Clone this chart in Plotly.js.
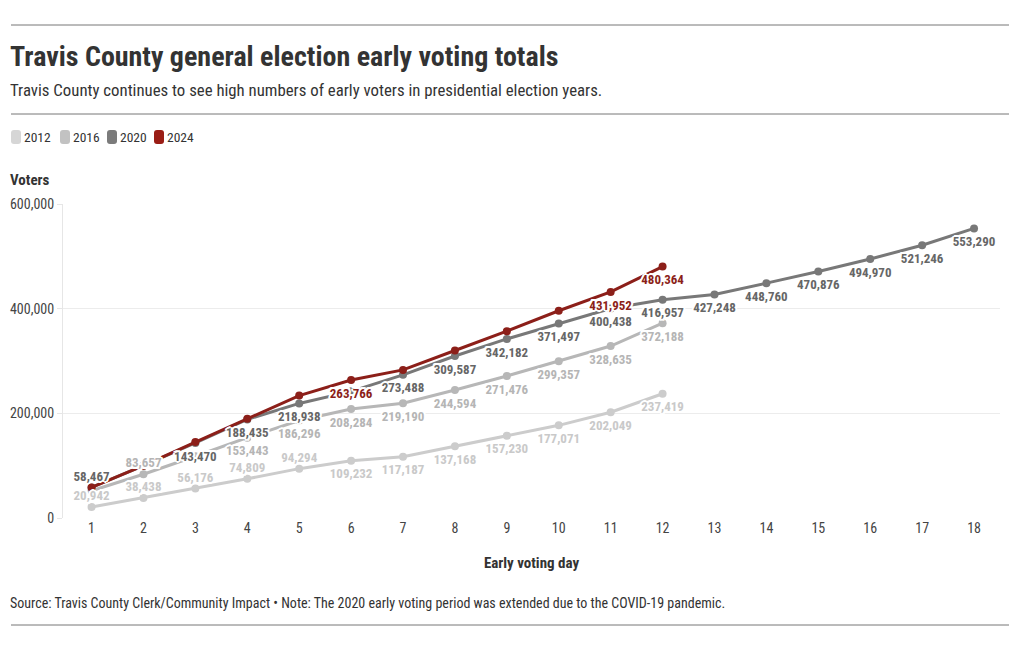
<!DOCTYPE html>
<html>
<head>
<meta charset="utf-8">
<script src="https://cdn.plot.ly/plotly-3.0.1.min.js"></script>
<style>
html,body{margin:0;padding:0;background:#fff;}
#chart{width:1020px;height:650px;}
</style>
</head>
<body>
<div id="chart"></div>
<script>
// ---- data ----
const days = [1,2,3,4,5,6,7,8,9,10,11,12,13,14,15,16,17,18];
const seriesNames = ["2012","2016","2020","2024"];
const votes2012 = [20942,38438,56176,74809,94294,109232,117187,137168,157230,177071,202049,237419];
const votes2016 = [52000,83657,118000,153443,186296,208284,219190,244594,271476,299357,328635,372188];
const votes2020 = [58467,100000,143470,188435,218938,242000,273488,309587,342182,371497,400438,416957,427248,448760,470876,494970,521246,553290];
const votes2024 = [58500,100000,145000,189500,234000,263766,283000,320000,357000,396000,431952,480364];
// which points carry a visible value label (1 = shown)
const shown2012 = [1,1,1,1,1,1,1,1,1,1,1,1];
const shown2016 = [0,1,0,1,1,1,1,1,1,1,1,1];
const shown2020 = [1,0,1,1,1,0,1,1,1,1,1,1,1,1,1,1,1,1];
const shown2024 = [0,0,0,0,0,1,0,0,0,0,1,1];
const yTicks = [0,200000,400000,600000];
const yTickText = ["0","200,000","400,000","600,000"];

// ---- styling ----
const FONT = "'Roboto Condensed', 'Liberation Sans Narrow', 'DejaVu Sans Condensed', Roboto, sans-serif";
const lineColors = ["#cccccc","#b7b7b7","#787878","#8c1f19"];
const labelColors = ["#c9c9c9","#b5b5b5","#666666","#8c1f19"];
const swatchColors = ["#d6d6d6","#c2c2c2","#7b7b7b","#9a1d15"];
const halo = "2px 0 0 #fff, -2px 0 0 #fff, 0 2px 0 #fff, 0 -2px 0 #fff, 1.5px 1.5px 0 #fff, -1.5px -1.5px 0 #fff, 1.5px -1.5px 0 #fff, -1.5px 1.5px 0 #fff";

const allVotes = [votes2012, votes2016, votes2020, votes2024];
const allShown = [shown2012, shown2016, shown2020, shown2024];
// label placement: above for early 2012 points and a few others, below otherwise
const abovePts = [[0,1,2,3,4],[1],[0],[]];

const fmt = v => v.toLocaleString("en-US");

const lineTraces = allVotes.map((vals, i) => ({
  x: days.slice(0, vals.length),
  y: vals,
  type: "scatter",
  mode: "lines+markers",
  name: seriesNames[i],
  line: {color: lineColors[i], width: 3},
  marker: {color: lineColors[i], size: 8},
  hoverinfo: "skip",
  showlegend: false
}));

const textTraces = allVotes.map((vals, i) => ({
  x: days.slice(0, vals.length),
  y: vals,
  type: "scatter",
  mode: "markers+text",
  marker: {size: vals.map((v, k) => abovePts[i].includes(k) ? 4 : 11), opacity: 0, color: "#fff"},
  text: vals.map((v, k) => allShown[i][k] ? fmt(v) : ""),
  textposition: vals.map((v, k) => abovePts[i].includes(k) ? "top center" : "bottom center"),
  textfont: {family: FONT, size: 13, color: labelColors[i], weight: 700, shadow: halo},
  hoverinfo: "skip",
  showlegend: false,
  cliponaxis: false
}));

// custom legend (shapes + annotations)
const px = v => (v - 63) / 937;
const py = v => (518 - v) / 314;
const roundRect = (x0, y0, x1, y1, r) => {
  const rx = r / 937, ry = r / 314;
  const X0 = px(x0), X1 = px(x1), Y0 = py(y1), Y1 = py(y0);
  return `M${X0 + rx},${Y0} L${X1 - rx},${Y0} Q${X1},${Y0} ${X1},${Y0 + ry} L${X1},${Y1 - ry} Q${X1},${Y1} ${X1 - rx},${Y1} L${X0 + rx},${Y1} Q${X0},${Y1} ${X0},${Y1 - ry} L${X0},${Y0 + ry} Q${X0},${Y0} ${X0 + rx},${Y0} Z`;
};
const shapes = [];
const annotations = [];
const legX = [11, 60, 107, 154];
seriesNames.forEach((n, i) => {
  shapes.push({type: "path", xref: "paper", yref: "paper",
    path: roundRect(legX[i], 130, legX[i] + 10, 144, 3),
    fillcolor: swatchColors[i], line: {width: 0}});
  annotations.push({xref: "paper", yref: "paper", x: px(legX[i] + 11), y: py(137),
    xanchor: "left", yanchor: "middle", showarrow: false, text: n,
    font: {family: FONT, size: 13.5, color: "#333"}});
});
// rules
[25, 114, 625].forEach(v => {
  shapes.push({type: "line", xref: "paper", yref: "paper",
    x0: px(11), x1: px(1009), y0: py(v), y1: py(v),
    line: {color: "#777", width: 1}});
});
// texts
const L = px(8);
annotations.push({xref: "paper", yref: "paper", x: L, y: py(56), xanchor: "left", yanchor: "middle",
  showarrow: false, text: "<b>Travis County general election early voting totals</b>",
  font: {family: FONT, size: 28, color: "#333"}});
annotations.push({xref: "paper", yref: "paper", x: L, y: py(90), xanchor: "left", yanchor: "middle",
  showarrow: false, text: "Travis County continues to see high numbers of early voters in presidential election years.",
  font: {family: FONT, size: 16.8, color: "#333"}});
annotations.push({xref: "paper", yref: "paper", x: L, y: py(180), xanchor: "left", yanchor: "middle",
  showarrow: false, text: "<b>Voters</b>",
  font: {family: FONT, size: 15, color: "#333"}});
annotations.push({xref: "paper", yref: "paper", x: L, y: py(603), xanchor: "left", yanchor: "middle",
  showarrow: false, text: "Source: Travis County Clerk/Community Impact • Note: The 2020 early voting period was extended due to the COVID-19 pandemic.",
  font: {family: FONT, size: 14, color: "#333"}});

const layout = {
  width: 1020, height: 650,
  margin: {l: 63, r: 20, t: 204, b: 132, pad: 0},
  paper_bgcolor: "#fff", plot_bgcolor: "#fff",
  font: {family: FONT, color: "#333"},
  showlegend: false,
  xaxis: {
    range: [0.45, 18.5], tickvals: days, ticktext: days.map(String),
    showgrid: false, zeroline: false, showline: false, ticks: "",
    tickfont: {family: FONT, size: 14, color: "#444"},
    title: {text: "<b>Early voting day</b>", font: {family: FONT, size: 15, color: "#333"}, standoff: 22},
    fixedrange: true
  },
  yaxis: {
    range: [0, 600000], tickvals: yTicks, ticktext: yTickText,
    showgrid: true, gridcolor: "#ececec", gridwidth: 1, zeroline: false,
    showline: true, linecolor: "#e6e6e6", linewidth: 1,
    ticks: "outside", ticklen: 5, tickcolor: "#e6e6e6",
    tickfont: {family: FONT, size: 14, color: "#444"},
    fixedrange: true
  },
  shapes: shapes,
  annotations: annotations
};

Plotly.newPlot("chart", lineTraces.concat(textTraces), layout, {displayModeBar: false, staticPlot: true});
</script>
</body>
</html>
